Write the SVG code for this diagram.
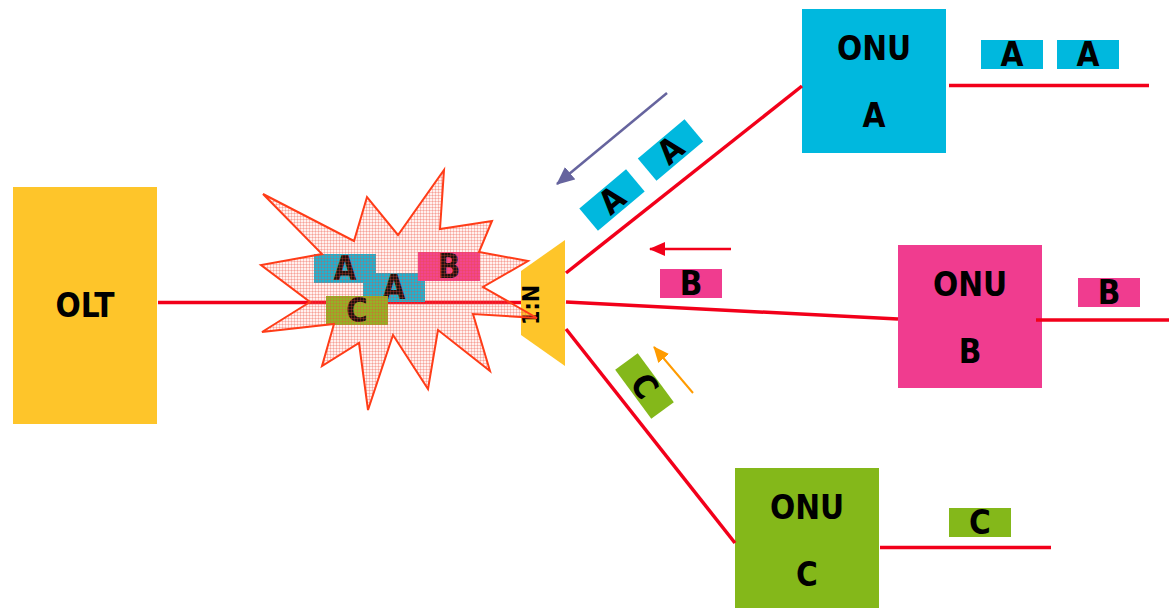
<svg xmlns="http://www.w3.org/2000/svg" width="1169" height="608" viewBox="0 0 1169 608">
<style>
  .t { font-family: 'DejaVu Sans Condensed', 'DejaVu Sans', 'Liberation Sans', sans-serif; font-weight: bold; font-size: 33px; fill: #000; text-anchor: middle; }
  .fiber { stroke: #f2001a; stroke-width: 3.5; fill: none; }
  .cA { fill: #00b8de; }
  .cB { fill: #f03c8f; }
  .cC { fill: #84b81a; }
</style>
<defs>
  <pattern id="hatch" width="3" height="3" patternUnits="userSpaceOnUse">
    <rect width="3" height="3" fill="#ff9080" fill-opacity="0.12"/>
    <path d="M0,0.5H3M0.5,0V3" stroke="#ee4a38" stroke-opacity="0.27" stroke-width="1"/>
  </pattern>
  <marker id="ahRed" markerUnits="userSpaceOnUse" markerWidth="16" markerHeight="14" refX="15" refY="7" orient="auto">
    <path d="M0,0 L16,7 L0,14 z" fill="#f2001a"/>
  </marker>
  <marker id="ahOrange" markerUnits="userSpaceOnUse" markerWidth="16" markerHeight="14" refX="15" refY="7" orient="auto">
    <path d="M0,0 L16,7 L0,14 z" fill="#ff9b00"/>
  </marker>
  <marker id="ahPurple" markerUnits="userSpaceOnUse" markerWidth="18" markerHeight="16" refX="17" refY="8" orient="auto">
    <path d="M0,0 L18,8 L0,16 z" fill="#66649e"/>
  </marker>
</defs>

<rect width="1169" height="608" fill="#ffffff"/>

<g id="olt">
  <rect x="13" y="187" width="144" height="237" fill="#fec52a"/>
  <text class="t" x="85" y="317">OLT</text>
</g>

<g id="onu-a">
  <rect x="802" y="9" width="144" height="144" class="cA"/>
  <text class="t" x="874" y="60">ONU</text>
  <text class="t" x="874" y="127">A</text>
</g>

<g id="onu-b">
  <rect x="898" y="245" width="144" height="143" class="cB"/>
  <text class="t" x="970" y="296">ONU</text>
  <text class="t" x="970" y="363">B</text>
</g>

<g id="onu-c">
  <rect x="735" y="468" width="144" height="140" class="cC"/>
  <text class="t" x="807" y="519">ONU</text>
  <text class="t" x="807" y="586">C</text>
</g>

<g id="connectors">
  <line class="fiber" x1="158" y1="302.5" x2="523" y2="302.5"/>
  <line class="fiber" x1="566" y1="273" x2="802" y2="86" stroke-width="3"/>
  <line class="fiber" x1="566" y1="302" x2="898" y2="319" stroke-width="3"/>
  <line class="fiber" x1="566" y1="329" x2="735" y2="543" stroke-width="3"/>
  <line class="fiber" x1="949" y1="85.5" x2="1149" y2="85.5"/>
  <line class="fiber" x1="1036" y1="320" x2="1169" y2="320"/>
  <line class="fiber" x1="880" y1="547.5" x2="1051" y2="547.5"/>
</g>

<g id="splitter">
  <polygon points="521,271 565,240 565,366 521,335" fill="#fec52a"/>
  <text class="t" style="font-size:23px" transform="translate(539,305) rotate(-90)">1:N</text>
</g>

<g id="collision-frames">
  <rect x="314" y="254" width="62" height="29" class="cA"/>
  <text class="t" x="345" y="280">A</text>
  <rect x="363" y="273" width="62" height="29" class="cA"/>
  <text class="t" x="394" y="299">A</text>
  <rect x="418" y="252" width="62" height="29" class="cB"/>
  <text class="t" x="449" y="278">B</text>
  <rect x="326" y="296" width="62" height="29" class="cC"/>
  <text class="t" x="357" y="322">C</text>
</g>

<g id="collision">
  <polygon points="263,194 354,241 367,197 398,235 444,170 440,229 492,221 479,252 528,261 483,287 537,318 473,314 490,371 438,330 428,389 393,335 368,410 359,343 322,366 334,324 262,332 310,302 261,265 322,254" fill="url(#hatch)" stroke="#ff3c18" stroke-width="2" stroke-linejoin="miter"/>
</g>

<g id="frames">
  <g transform="translate(612,200) rotate(-40)">
    <rect x="-30.5" y="-14.5" width="61" height="29" class="cA"/>
    <text class="t" x="0" y="11.5">A</text>
  </g>
  <g transform="translate(670.5,150) rotate(-40)">
    <rect x="-30.5" y="-14.5" width="61" height="29" class="cA"/>
    <text class="t" x="0" y="11.5">A</text>
  </g>
  <rect x="660" y="269" width="62" height="29" class="cB"/>
  <text class="t" x="691" y="295">B</text>
  <g transform="translate(644.5,386) rotate(53.7)">
    <rect x="-30.5" y="-14" width="61" height="28" class="cC"/>
    <text class="t" x="0" y="11.5">C</text>
  </g>
  <rect x="981" y="40" width="62" height="29" class="cA"/>
  <text class="t" x="1012" y="66">A</text>
  <rect x="1057" y="40" width="62" height="29" class="cA"/>
  <text class="t" x="1088" y="66">A</text>
  <rect x="1078" y="278" width="62" height="29" class="cB"/>
  <text class="t" x="1109" y="304">B</text>
  <rect x="949" y="508" width="62" height="29" class="cC"/>
  <text class="t" x="980" y="534">C</text>
</g>

<g id="arrows">
  <line x1="667" y1="93" x2="557" y2="184" stroke="#66649e" stroke-width="2.5" marker-end="url(#ahPurple)"/>
  <line x1="731" y1="249" x2="650" y2="249" stroke="#f2001a" stroke-width="2.5" marker-end="url(#ahRed)"/>
  <line x1="693" y1="393" x2="654" y2="347" stroke="#ff9b00" stroke-width="2" marker-end="url(#ahOrange)"/>
</g>
</svg>
